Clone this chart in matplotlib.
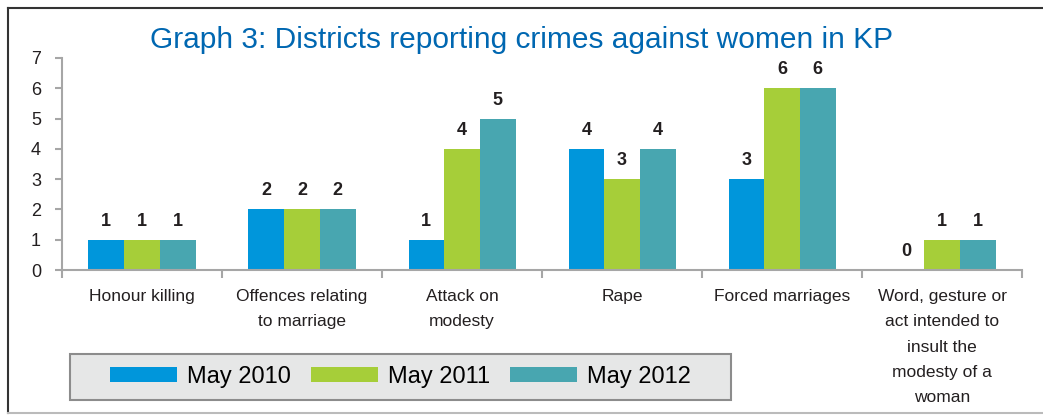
import numpy as np
import matplotlib.pyplot as plt
from matplotlib.patches import Rectangle
from matplotlib.lines import Line2D

plt.rcParams['font.family'] = ['Liberation Sans', 'DejaVu Sans']

categories = ["Honour killing", "Offences relating\nto marriage", "Attack on\nmodesty",
              "Rape", "Forced marriages",
              "Word, gesture or\nact intended to\ninsult the\nmodesty of a\nwoman"]
series = ["May 2010", "May 2011", "May 2012"]
may2010 = [1, 2, 1, 4, 3, 0]
may2011 = [1, 2, 4, 3, 6, 1]
may2012 = [1, 2, 5, 4, 6, 1]
colors = ["#0096DB", "#A6CE39", "#48A6B0"]

fig = plt.figure(figsize=(10.43, 4.2), dpi=100)
ax = fig.add_axes([0.0594, 0.357, 0.9206, 0.505])

x = np.arange(len(categories))
w = 0.223
for i, (vals, c, name) in enumerate(zip([may2010, may2011, may2012], colors, series)):
    pos = x + (i - 1) * w
    ax.bar(pos, vals, width=w, color=c, label=name, linewidth=0)
    for p, v in zip(pos, vals):
        ax.text(p, v + 0.33, str(v), ha='center', va='bottom', fontsize=13,
                fontweight='bold', color='#231f20')

axis_col = '#a6a6a6'
ax.set_xlim(-0.5, len(categories) - 0.5)
ax.set_ylim(0, 7)
ax.set_yticks(range(8))
ax.set_xticks(np.arange(len(categories) + 1) - 0.5)
ax.set_xticklabels([])
ax.tick_params(axis='x', length=6, color=axis_col, width=1.5)
ax.tick_params(axis='y', length=5, color=axis_col, width=1.5, labelsize=13,
               labelcolor='#231f20', pad=10)
# category names under the axis, multi-line with wider spacing
for xi, cat in zip(x, categories):
    ax.text(xi, -0.09, cat, transform=ax.get_xaxis_transform(), ha='center', va='top',
            fontsize=12.5, color='#231f20', linespacing=1.85)
for s in ['top', 'right']:
    ax.spines[s].set_visible(False)
for s in ['left', 'bottom']:
    ax.spines[s].set_color(axis_col)
    ax.spines[s].set_linewidth(1.5)

fig.text(0.5, 0.905, "Graph 3: Districts reporting crimes against women in KP",
         ha='center', va='center', fontsize=21.5, color='#0067B1')

# grey box behind the legend
fig.add_artist(Rectangle((0.067, 0.048), 0.634, 0.109, transform=fig.transFigure,
                         facecolor='#e6e7e7', edgecolor='#8c8c8c', lw=1.5))
leg = fig.legend(loc='center', bbox_to_anchor=(0.384, 0.1025), ncol=3, fontsize=17,
                 frameon=False, handlelength=2.84, handleheight=0.6,
                 handletextpad=0.42, columnspacing=0.85, borderaxespad=0)

# outer frame round the figure
fig.add_artist(Line2D([0.008, 0.008], [0.016, 0.981], color='#333333', lw=1.5,
                      transform=fig.transFigure))
fig.add_artist(Line2D([0.008, 1.0], [0.981, 0.981], color='#333333', lw=1.5,
                      transform=fig.transFigure))
fig.add_artist(Line2D([0.008, 1.0], [0.016, 0.016], color='#bbbbbb', lw=1.5,
                      transform=fig.transFigure))

fig.savefig("out.png", dpi=100)
